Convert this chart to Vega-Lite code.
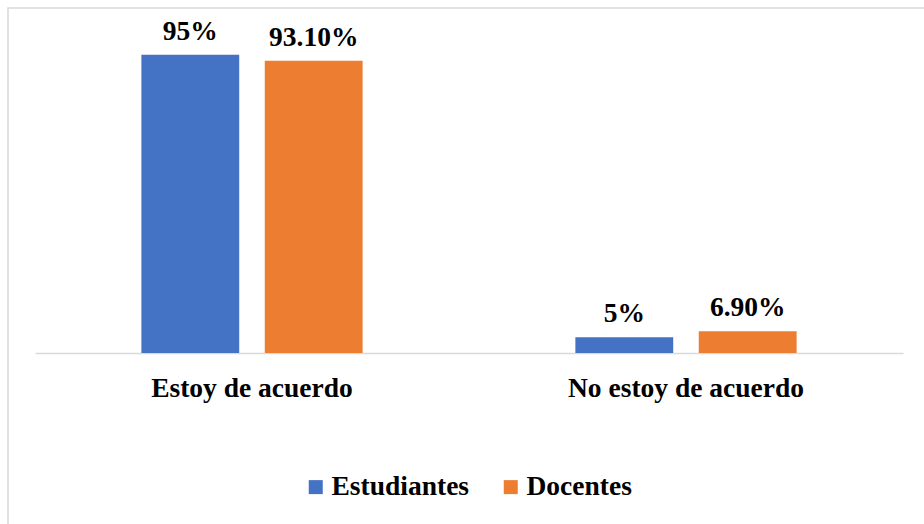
{
  "$schema": "https://vega.github.io/schema/vega-lite/v6.json",
  "autosize": "none",
  "width": 920,
  "height": 520,
  "padding": {"left": 8, "top": 8, "right": 0, "bottom": 0},
  "background": "white",
  "config": {
    "view": {"stroke": "#d9d9d9", "strokeWidth": 1.5},
    "font": "Liberation Serif"
  },
  "data": {
    "values": [
      {"categoria": "Estoy de acuerdo", "grupo": "Estudiantes", "valor": 95, "etiqueta": "95%"},
      {"categoria": "Estoy de acuerdo", "grupo": "Docentes", "valor": 93.1, "etiqueta": "93.10%"},
      {"categoria": "No estoy de acuerdo", "grupo": "Estudiantes", "valor": 5, "etiqueta": "5%"},
      {"categoria": "No estoy de acuerdo", "grupo": "Docentes", "valor": 6.9, "etiqueta": "6.90%"}
    ]
  },
  "encoding": {
    "x": {
      "field": "categoria",
      "type": "nominal",
      "sort": ["Estoy de acuerdo", "No estoy de acuerdo"],
      "scale": {"range": [27, 895], "paddingInner": 0, "paddingOuter": 0},
      "axis": {
        "title": null,
        "labelAngle": 0,
        "ticks": false,
        "offset": -175,
        "domainColor": "#d9d9d9",
        "domainWidth": 1.5,
        "labelFont": "Liberation Serif",
        "labelFontSize": 27.5,
        "labelFontWeight": "bold",
        "labelColor": "black",
        "labelPadding": 21,
        "labelLimit": 0
      }
    },
    "xOffset": {
      "field": "grupo",
      "type": "nominal",
      "sort": ["Estudiantes", "Docentes"],
      "scale": {"paddingInner": 0.207, "paddingOuter": 0.862}
    },
    "y": {
      "field": "valor",
      "type": "quantitative",
      "scale": {"domain": [0, 100], "range": [345, 31]},
      "axis": null
    }
  },
  "layer": [
    {
      "mark": {"type": "bar"},
      "encoding": {
        "color": {
          "field": "grupo",
          "type": "nominal",
          "scale": {"domain": ["Estudiantes", "Docentes"], "range": ["#4472C4", "#ED7D31"]},
          "legend": {
            "title": null,
            "orient": "none",
            "legendX": 294,
            "legendY": 465,
            "direction": "horizontal",
            "symbolType": "square",
            "symbolSize": 196,
            "symbolStrokeWidth": 0,
            "labelFont": "Liberation Serif",
            "labelFontSize": 27.5,
            "labelFontWeight": "bold",
            "labelColor": "black",
            "labelOffset": 2,
            "labelLimit": 0,
            "columnPadding": 27
          }
        }
      }
    },
    {
      "mark": {
        "type": "text",
        "baseline": "alphabetic",
        "dy": -15,
        "font": "Liberation Serif",
        "fontSize": 27.5,
        "fontWeight": "bold",
        "color": "black"
      },
      "encoding": {"text": {"field": "etiqueta"}}
    }
  ]
}
